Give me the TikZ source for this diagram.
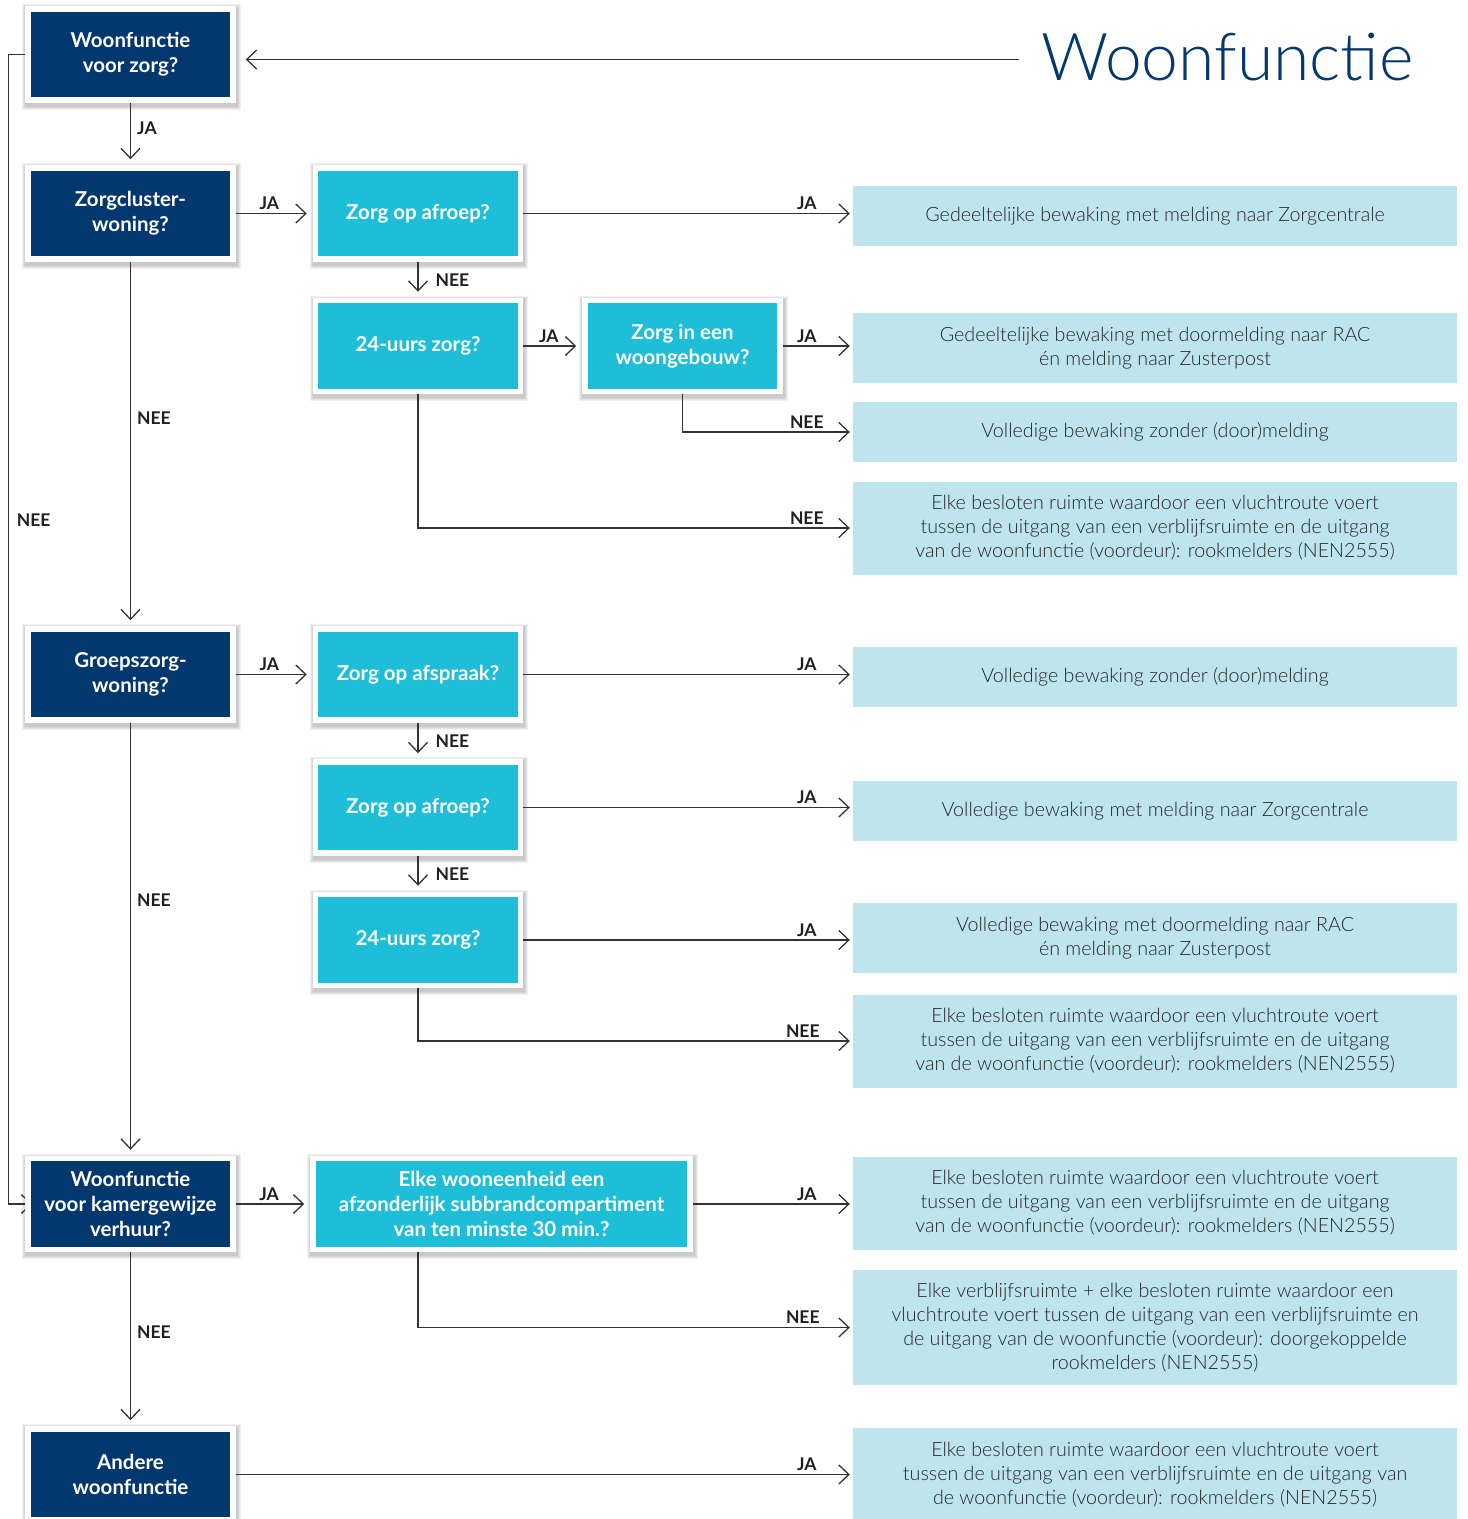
\documentclass[tikz,border=0pt]{standalone}
\usepackage{fontspec}
\setmainfont{Lato}
\newfontfamily\lightfont{Lato Light}
\usetikzlibrary{arrows.meta,calc}
\definecolor{navy}{HTML}{02386E}
\definecolor{qcyan}{HTML}{1EBED8}
\definecolor{lblue}{HTML}{BEE4EE}
\definecolor{lc}{HTML}{333333}
\definecolor{txt}{HTML}{262626}
\definecolor{lbltxt}{HTML}{231F20}
\pgfdeclarelayer{bg}
\pgfdeclarelayer{shadow}
\pgfdeclarelayer{lines}
\pgfsetlayers{bg,shadow,lines,main}
\begin{document}
\begin{tikzpicture}[x=1pt,y=-1pt,
  qbox/.style={draw=white, line width=5.5pt, minimum height=91pt, text=white, align=center,
    font=\bfseries\fontsize{20.5}{25}\selectfont, inner sep=0pt},
  darkbox/.style={qbox, fill=navy, minimum width=205pt},
  cbox/.style={qbox, fill=qcyan, minimum width=205pt},
  res/.style={fill=lblue, minimum width=604pt, text=txt, align=center,
    font=\lightfont\fontsize{19.7}{24}\selectfont, inner sep=0pt},
  arr/.style={draw=lc, line width=1.3pt, -{Straight Barb[length=10pt,width=19pt,line width=1.3pt]}},
  arrq/.style={arr, shorten >=6pt},
  arrr/.style={arr, shorten >=3pt},
  lbl/.style={text=lbltxt, font=\bfseries\fontsize{17.5}{20}\selectfont, inner sep=3pt},
  vl/.style={lbl, right, xshift=3pt},
  hl/.style={lbl, above},
  rl/.style={lbl, pos=1, anchor=south, xshift=-46pt}
]
\begin{pgfonlayer}{bg}
\fill[white] (0,0) rectangle (1468,1519);
\end{pgfonlayer}
\useasboundingbox (0,0) rectangle (1468,1519);

% title
\node[anchor=base, text=navy, font=\lightfont\fontsize{66}{80}\selectfont, inner sep=0pt] (t) at (1227.5,80) {Woonfunctie};

% dark boxes
\node[darkbox] (w1) at (130.5,54.5) {Woonfunctie\\voor zorg?};
\node[darkbox] (w2) at (130.5,213.5) {Zorgcluster-\\woning?};
\node[darkbox] (w3) at (130.5,674.5) {Groepszorg-\\woning?};
\node[darkbox] (w4) at (130.5,1204) {Woonfunctie\\voor kamergewijze\\verhuur?};
\node[darkbox] (w5) at (130.5,1474.5) {Andere\\woonfunctie};

% cyan boxes
\node[cbox] (a1) at (418,213.5) {Zorg op afroep?};
\node[cbox] (a2) at (418,346) {24-uurs zorg?};
\node[cbox, minimum width=195pt] (a3) at (682.5,346) {Zorg in een\\woongebouw?};
\node[cbox] (b1) at (418,674.5) {Zorg op afspraak?};
\node[cbox] (b2) at (418,807.5) {Zorg op afroep?};
\node[cbox] (b3) at (418,940) {24-uurs zorg?};
\node[cbox, minimum width=377pt] (c1) at (501.5,1204) {Elke wooneenheid een\\afzonderlijk subbrandcompartiment\\van ten minste 30 min.?};

% result boxes
\node[res, minimum height=60pt] (r1) at (1155,216) {Gedeeltelijke bewaking met melding naar Zorgcentrale};
\node[res, minimum height=70pt] (r2) at (1155,348) {Gedeeltelijke bewaking met doormelding naar RAC\\én melding naar Zusterpost};
\node[res, minimum height=60pt] (r3) at (1155,432) {Volledige bewaking zonder (door)melding};
\node[res, minimum height=93pt] (r4) at (1155,528) {Elke besloten ruimte waardoor een vluchtroute voert\\tussen de uitgang van een verblijfsruimte en de uitgang\\van de woonfunctie (voordeur): rookmelders (NEN2555)};
\node[res, minimum height=60pt] (r5) at (1155,677) {Volledige bewaking zonder (door)melding};
\node[res, minimum height=60pt] (r6) at (1155,811) {Volledige bewaking met melding naar Zorgcentrale};
\node[res, minimum height=70pt] (r7) at (1155,938) {Volledige bewaking met doormelding naar RAC\\én melding naar Zusterpost};
\node[res, minimum height=93pt] (r8) at (1155,1041) {Elke besloten ruimte waardoor een vluchtroute voert\\tussen de uitgang van een verblijfsruimte en de uitgang\\van de woonfunctie (voordeur): rookmelders (NEN2555)};
\node[res, minimum height=93pt] (r9) at (1155,1203) {Elke besloten ruimte waardoor een vluchtroute voert\\tussen de uitgang van een verblijfsruimte en de uitgang\\van de woonfunctie (voordeur): rookmelders (NEN2555)};
\node[res, minimum height=115pt] (r10) at (1155,1327.5) {Elke verblijfsruimte + elke besloten ruimte waardoor een\\vluchtroute voert tussen de uitgang van een verblijfsruimte en\\de uitgang van de woonfunctie (voordeur): doorgekoppelde\\rookmelders (NEN2555)};
\node[res, minimum height=93pt] (r11) at (1155,1474.5) {Elke besloten ruimte waardoor een vluchtroute voert\\tussen de uitgang van een verblijfsruimte en de uitgang van\\de woonfunctie (voordeur): rookmelders (NEN2555)};

% soft shadows of the question boxes
\begin{pgfonlayer}{shadow}
\foreach \n in {w1,w2,w3,w4,w5,a1,a2,a3,b1,b2,b3,c1}{
  \foreach \k in {1,...,4}{
    \fill[black, opacity=0.055] ([shift={(-\k+1,-\k+2)}]\n.north west) rectangle ([shift={(\k+1,\k+3)}]\n.south east);
  }
}
\end{pgfonlayer}

% left loop behind boxes
\begin{pgfonlayer}{lines}
\draw[arr, shorten >=-7pt] (w1.west) -- ++(-17,0) |- node[vl, pos=0.2025, xshift=2pt]{NEE} (w4.west);
\end{pgfonlayer}

% connectors
\coordinate (tl) at ([yshift=-3pt]t.west);
\draw[arr, shorten <=22pt, shorten >=10pt] (tl) -- (tl -| w1.east);
\draw[arrq] (w1.south) -- node[vl, pos=0.4]{JA} (w2.north);
\draw[arrq] (w2.south) -- node[vl, pos=0.43]{NEE} (w3.north);
\draw[arrq] (w3.south) -- node[vl, pos=0.41]{NEE} (w4.north);
\draw[arrq] (w4.south) -- node[vl, pos=0.46]{NEE} (w5.north);

\draw[arrq] (w2.east) -- node[hl, midway, xshift=-5pt]{JA} (a1.west);
\draw[arrq] (w3.east) -- node[hl, midway, xshift=-5pt]{JA} (b1.west);
\draw[arrq] (w4.east) -- node[hl, midway, xshift=-4pt]{JA} (c1.west);
\draw[arrr] (w5.east) -- node[rl]{JA} (w5.east -| r11.west);

\draw[arrr] (a1.east) -- node[rl]{JA} (a1.east -| r1.west);
\draw[arrq] (a1.south) -- node[vl, midway, xshift=11pt]{NEE} (a2.north);
\draw[arrq] (a2.east) -- node[hl, midway, xshift=-4pt]{JA} (a3.west);
\draw[arrr] (a3.east) -- node[rl]{JA} (a3.east -| r2.west);
\draw[arrr] (a3.south) |- node[rl]{NEE} (r3.west);
\draw[arrr] (a2.south) |- node[rl]{NEE} (r4.west);

\draw[arrr] (b1.east) -- node[rl]{JA} (b1.east -| r5.west);
\draw[arrq] (b1.south) -- node[vl, midway, xshift=11pt]{NEE} (b2.north);
\draw[arrr] (b2.east) -- node[rl]{JA} (b2.east -| r6.west);
\draw[arrq] (b2.south) -- node[vl, midway, xshift=11pt]{NEE} (b3.north);
\draw[arrr] (b3.east) -- node[rl]{JA} (b3.east -| r7.west);
\draw[arrr] (b3.south) |- node[rl, xshift=-4pt]{NEE} (r8.west);

\draw[arrr] (c1.east) -- node[rl]{JA} (c1.east -| r9.west);
\draw[arrr] (c1.south -| a1.south) |- node[rl, xshift=-4pt]{NEE} (r10.west);
\end{tikzpicture}
\end{document}
